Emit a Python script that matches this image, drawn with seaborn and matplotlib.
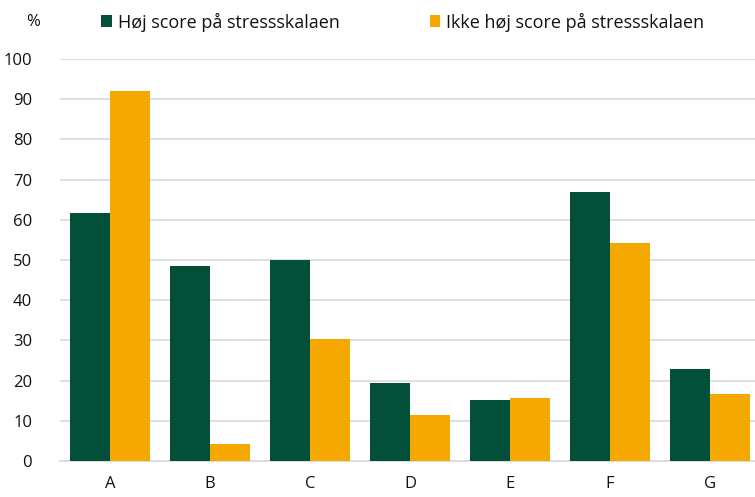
import pandas as pd
import matplotlib.pyplot as plt
import seaborn as sns

# Data
kategorier = ['A', 'B', 'C', 'D', 'E', 'F', 'G']
hoej_score = [61.7, 48.6, 50.1, 19.4, 15.2, 66.9, 23.0]
ikke_hoej_score = [92.0, 4.2, 30.4, 11.5, 15.7, 54.3, 16.6]
serier = ['Høj score på stressskalaen', 'Ikke høj score på stressskalaen']
farver = ['#03503a', '#f5a800']

df = pd.DataFrame({
    'kategori': kategorier * 2,
    'serie': [serier[0]] * len(kategorier) + [serier[1]] * len(kategorier),
    'procent': hoej_score + ikke_hoej_score,
})

sns.set_style('white')
plt.rcParams['font.family'] = ['Open Sans', 'DejaVu Sans']

fig = plt.figure(figsize=(7.55, 4.97), dpi=100)
ax = fig.add_axes([60 / 755, 36 / 497, 695 / 755, 402 / 497])

sns.barplot(data=df, x='kategori', y='procent', hue='serie', palette=farver,
            width=0.8, saturation=1, linewidth=0, ax=ax, zorder=3)

ax.set_ylim(0, 100)
ax.set_xlim(-0.5, 6.45)
ax.set_yticks(range(0, 101, 10))
ax.yaxis.grid(True, color='#d9d9d9', linewidth=1.2, zorder=0)
ax.set_axisbelow(True)
for s in ['top', 'right', 'left']:
    ax.spines[s].set_visible(False)
ax.spines['bottom'].set_color('#d9d9d9')
ax.spines['bottom'].set_linewidth(1.2)
ax.tick_params(axis='both', length=0, labelsize=12, colors='#111111')
ax.tick_params(axis='x', pad=11)
ax.tick_params(axis='y', pad=20)
ax.set_xlabel('')
ax.set_ylabel('')

fig.text(40 / 755, 1 - 22 / 497, '%', ha='right', va='center', fontsize=12, color='#111111')

handles, labels = ax.get_legend_handles_labels()
ax.legend(handles, labels, ncol=2, loc='center left', frameon=False,
          bbox_to_anchor=(85 / 755, 1 - 22 / 497), bbox_transform=fig.transFigure,
          handlelength=0.6, handleheight=0.6, handletextpad=0.3,
          columnspacing=5.0, fontsize=13, labelcolor='#111111')

plt.savefig('out.png', dpi=100)
